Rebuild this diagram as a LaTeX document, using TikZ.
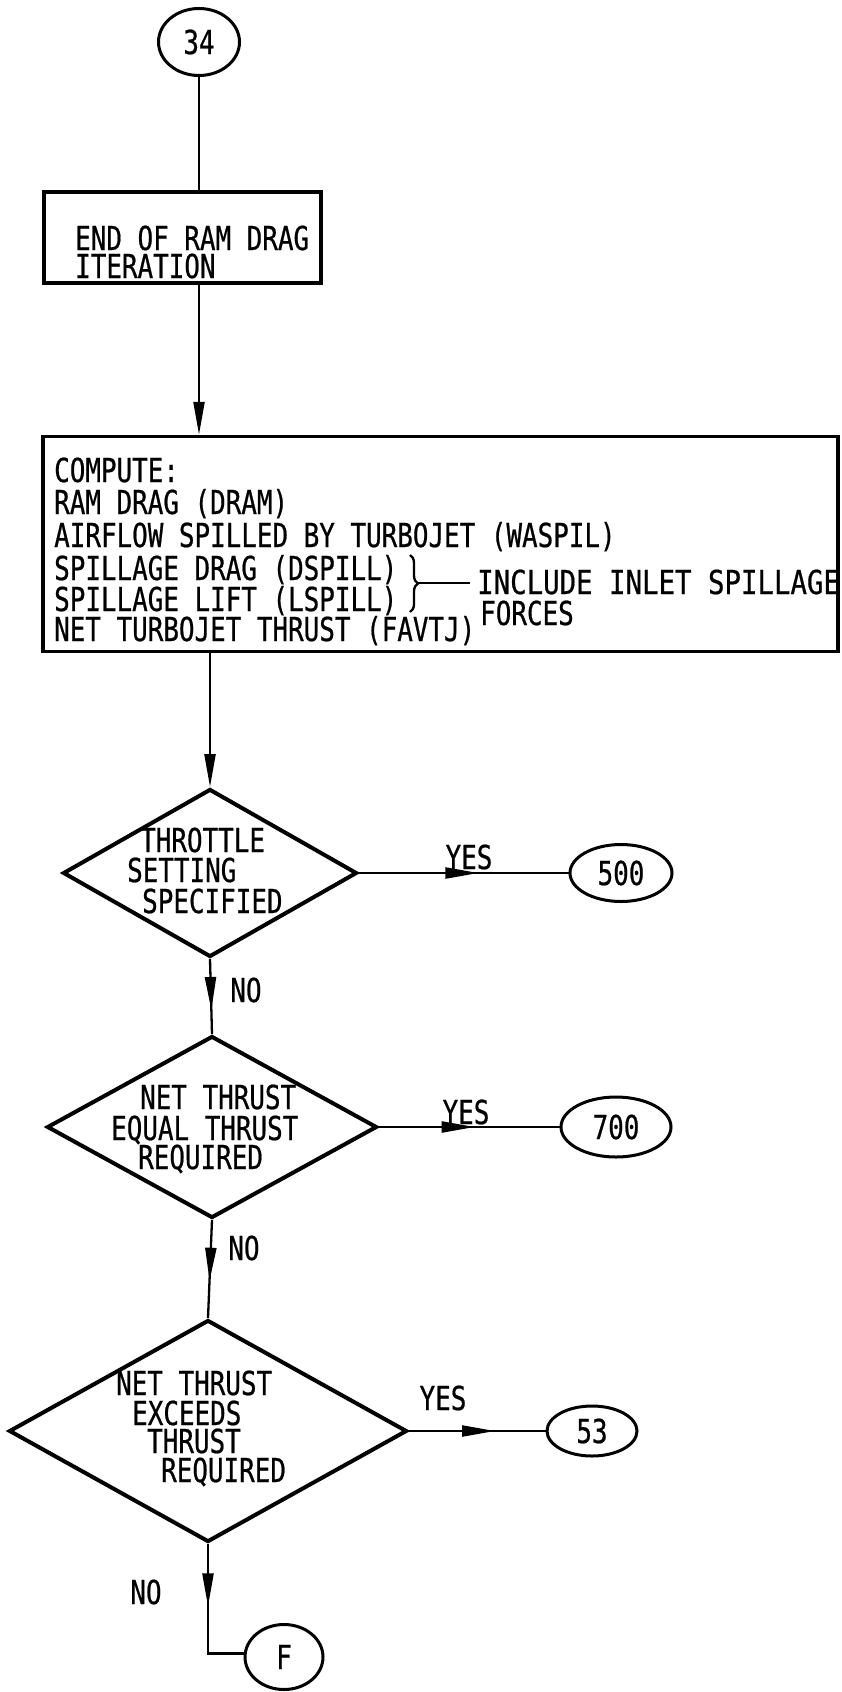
\documentclass[tikz,border=0pt]{standalone}
\usepackage{fontspec}
\usetikzlibrary{shapes.geometric,arrows.meta,decorations.markings,decorations.pathreplacing}
\newfontfamily\lett[FakeStretch=0.785,FakeBold=0.6]{DejaVu Sans Mono}
\newfontfamily\lettw[FakeStretch=0.83,FakeBold=0.6]{DejaVu Sans Mono}
\tikzset{
  tipA/.tip={Triangle[length=33pt,width=11pt]},
  every node/.style={font=\lett\fontsize{33}{36}\selectfont, inner sep=0pt},
  boxnode/.style={draw, line width=3.5pt, rectangle},
  decnode/.style={draw, line width=4pt, diamond},
  termnode/.style={draw, line width=3pt, ellipse},
  conn/.style={line width=2.3pt},
  lbl/.style={anchor=base west},
  midarrow/.style={postaction={decorate}, decoration={markings, mark=at position #1 with {\arrow{tipA}}}}
}
\begin{document}
\begin{tikzpicture}[x=1pt,y=-1pt]
\useasboundingbox (0,0) rectangle (841,1692);
% terminals
\node[termnode, minimum width=81pt, minimum height=67pt] (o34) at (199,42) {34};
\node[termnode, minimum width=102pt, minimum height=57pt] (o500) at (621,873) {500};
\node[termnode, minimum width=110pt, minimum height=60pt] (o700) at (616,1127) {700};
\node[termnode, minimum width=90pt, minimum height=50pt] (o53) at (592,1431) {53};
\node[termnode, minimum width=78pt, minimum height=65pt] (oF) at (284,1657) {F};
% box 1
\node[boxnode, minimum width=277pt, minimum height=91pt] (b1) at (182.5,237.5) {};
\node[lbl] (b1t1) at (75,250) {END OF RAM DRAG};
\node[lbl] (b1t2) at (75,278) {ITERATION};
% box 2
\node[boxnode, minimum width=795pt, minimum height=215pt] (b2) at (440.5,544) {};
\node[lbl] (b2t1) at (54,482) {COMPUTE:};
\node[lbl] (b2t2) at (54,514) {RAM DRAG (DRAM)};
\node[lbl] (b2t3) at (54,547) {AIRFLOW SPILLED BY TURBOJET (WASPIL)};
\node[lbl] (b2t4) at (54,580) {SPILLAGE DRAG (DSPILL)};
\node[lbl] (b2t5) at (54,611) {SPILLAGE LIFT (LSPILL)};
\node[lbl] (b2t6) at (54,641) {NET TURBOJET THRUST (FAVTJ)};
\node[anchor=base west, inner xsep=7pt, font=\lettw\fontsize{33}{36}\selectfont] (inc) at (470,594) {INCLUDE INLET SPILLAGE};
\node[lbl] (frc) at (480,625) {FORCES};
\draw[conn, decorate, decoration={brace, amplitude=8pt}] (410,555) -- (410,612);
\coordinate (bt) at (418,583);
\draw[conn] (bt) -- (bt -| inc.west);
% decisions
\node[decnode, minimum width=294pt, minimum height=168pt] (d1) at (210,873) {};
\node[lbl] (d1t1) at (140,852) {THROTTLE};
\node[lbl] (d1t2) at (127,882) {SETTING};
\node[lbl] (d1t3) at (142,913) {SPECIFIED};
\node[decnode, minimum width=330pt, minimum height=182pt] (d2) at (212,1127) {};
\node[lbl] (d2t1) at (140,1109) {NET THRUST};
\node[lbl] (d2t2) at (111,1140) {EQUAL THRUST};
\node[lbl] (d2t3) at (138,1169) {REQUIRED};
\node[decnode, minimum width=398pt, minimum height=222pt] (d3) at (208,1431) {};
\node[lbl] (d3t1) at (116,1395) {NET THRUST};
\node[lbl] (d3t2) at (132,1425) {EXCEEDS};
\node[lbl] (d3t3) at (147,1453) {THRUST};
\node[lbl] (d3t4) at (161,1482) {REQUIRED};
% labels
\node (y1) at (469,857) {YES};
\node (y2) at (466,1112) {YES};
\node (y3) at (443,1398) {YES};
\node (n1) at (246,990) {NO};
\node (n2) at (244,1248) {NO};
\node (n3) at (146,1592) {NO};
% connectors
\draw[conn] (o34.south) -- (o34.south |- b1.north);
\draw[conn, -{tipA}] (o34.south |- b1.south) -- (o34.south |- b2.north);
\draw[conn, -{tipA}] (d1.north |- b2.south) -- (d1.north);
\draw[conn, midarrow=0.68] (d1.south) -- (d2.north);
\draw[conn, midarrow=0.62] (d2.south) -- (d3.north);
\draw[conn, midarrow=0.43] (d3.south) -- (d3.south |- oF.175) -- (oF.175);
\draw[conn, midarrow=0.57] (d1.east) -- (o500.west);
\draw[conn, midarrow=0.53] (d2.east) -- (o700.west);
\draw[conn, midarrow=0.63] (d3.east) -- (o53.west);
\end{tikzpicture}
\end{document}
